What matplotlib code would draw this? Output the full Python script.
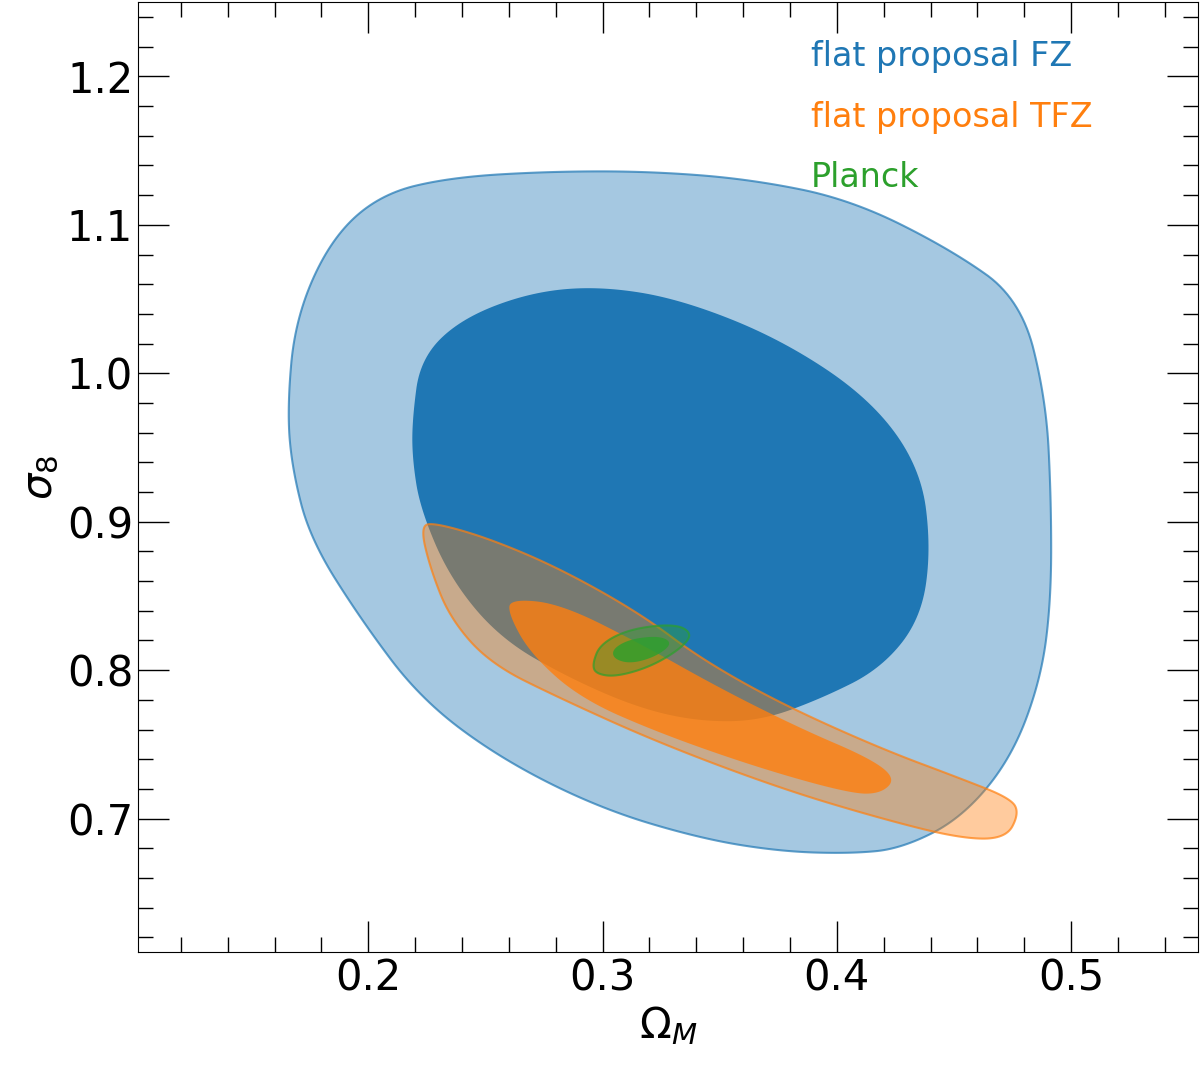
"""Omega_M - sigma_8 confidence contours."""

import matplotlib
matplotlib.use("Agg")
import matplotlib.pyplot as plt
import numpy as np
from matplotlib.ticker import MultipleLocator

# contour outlines, (Omega_M, sigma_8)
fz_outer = [(0.1654, 0.976), (0.1688, 1.0365), (0.1838, 1.090), (0.2051, 1.1206), (0.235, 1.132),
            (0.2778, 1.136), (0.3205, 1.136), (0.3632, 1.1307), (0.406, 1.117), (0.4487, 1.0834),
            (0.4786, 1.0498), (0.4893, 0.9825), (0.4915, 0.9152), (0.4915, 0.8479), (0.4872, 0.7942),
            (0.4744, 0.7403), (0.453, 0.6999), (0.4274, 0.6797), (0.406, 0.6764), (0.3761, 0.6778),
            (0.3419, 0.6865), (0.2991, 0.7067), (0.2564, 0.7404), (0.2222, 0.7808), (0.1966, 0.8346),
            (0.1752, 0.8884), (0.1675, 0.9355)]
fz_inner = [(0.2188, 0.9692), (0.2222, 1.0096), (0.2393, 1.0365), (0.2692, 1.0546), (0.2991, 1.0587),
            (0.3333, 1.0499), (0.3761, 1.023), (0.4145, 0.9826), (0.4359, 0.9355), (0.4402, 0.8817),
            (0.4359, 0.8346), (0.4188, 0.8009), (0.3932, 0.7807), (0.3675, 0.7659), (0.3419, 0.7653),
            (0.3162, 0.774), (0.2863, 0.7942), (0.2564, 0.8211), (0.235, 0.8615), (0.2222, 0.9086),
            (0.2188, 0.9423)]
tfz_outer = [(0.2222, 0.8972), (0.2286, 0.8992), (0.2521, 0.8884), (0.2821, 0.8682), (0.3162, 0.838),
             (0.3419, 0.8077), (0.3761, 0.7774), (0.4188, 0.7471), (0.453, 0.7269), (0.4744, 0.7135),
             (0.4778, 0.7034), (0.4722, 0.6865), (0.453, 0.6865), (0.4188, 0.7), (0.3761, 0.7202),
             (0.3248, 0.7505), (0.2821, 0.7808), (0.2521, 0.8043), (0.235, 0.8346), (0.2265, 0.8682)]
tfz_inner = [(0.2607, 0.848), (0.2821, 0.8447), (0.3162, 0.8178), (0.3504, 0.7875), (0.3846, 0.7606),
             (0.4145, 0.7404), (0.4252, 0.7269), (0.4188, 0.7168), (0.406, 0.7168), (0.3675, 0.7337),
             (0.3248, 0.7572), (0.2906, 0.7808), (0.2692, 0.811), (0.2598, 0.838)]
planck_outer = [(0.2957, 0.8043), (0.2991, 0.8178), (0.312, 0.8279), (0.3312, 0.8312), (0.3385, 0.8245),
                (0.3333, 0.8144), (0.3205, 0.8023), (0.3056, 0.7955), (0.297, 0.7976)]
planck_inner = [(0.3043, 0.8144), (0.312, 0.8211), (0.3248, 0.8231), (0.3299, 0.8178),
                (0.3226, 0.809), (0.312, 0.8043), (0.3047, 0.8076)]

labels = ["flat proposal FZ", "flat proposal TFZ", "Planck"]
colors = ["#1f77b4", "#ff7f0e", "#2ca02c"]


def smooth(points, n_iter=4):
    """Chaikin corner cutting on a closed polygon."""
    p = np.asarray(points, dtype=float)
    for _ in range(n_iter):
        q = np.roll(p, -1, axis=0)
        p = np.empty((2 * len(p), 2))[:0] if False else np.vstack(
            [np.column_stack([0.75 * p + 0.25 * q]), np.column_stack([0.25 * p + 0.75 * q])]
        ).reshape(2, -1, 2).transpose(1, 0, 2).reshape(-1, 2)
    return p


fig, ax = plt.subplots(figsize=(12, 10.82), dpi=100)
fig.subplots_adjust(left=0.115, right=0.998, top=0.998, bottom=0.12)

pairs = [(fz_outer, fz_inner), (tfz_outer, tfz_inner), (planck_outer, planck_inner)]
for (outer, inner), color in zip(pairs, colors):
    o = smooth(outer)
    i = smooth(inner)
    ax.fill(o[:, 0], o[:, 1], color=color, alpha=0.4, lw=0)
    ax.fill(o[:, 0], o[:, 1], fc="none", ec=color, alpha=0.7, lw=1.5)
    ax.fill(i[:, 0], i[:, 1], color=color, alpha=0.8 if color != colors[0] else 1.0, lw=0)

ax.set_xlim(0.1017, 0.554)
ax.set_ylim(0.610, 1.250)
ax.xaxis.set_major_locator(MultipleLocator(0.1))
ax.xaxis.set_minor_locator(MultipleLocator(0.02))
ax.yaxis.set_major_locator(MultipleLocator(0.1))
ax.yaxis.set_minor_locator(MultipleLocator(0.02))
ax.tick_params(which="both", direction="in", top=True, right=True, labelsize=30)
ax.tick_params(which="major", length=22, width=1)
ax.tick_params(which="minor", length=11, width=1)
ax.set_xlabel(r"$\Omega_M$", fontsize=30)
ax.set_ylabel(r"$\sigma_8$", fontsize=30)

for k, (label, color) in enumerate(zip(labels, colors)):
    ax.text(0.635, 0.943 - k * 0.064, label, color=color, fontsize=24,
            transform=ax.transAxes, va="center")

fig.savefig("out.png", dpi=100)
